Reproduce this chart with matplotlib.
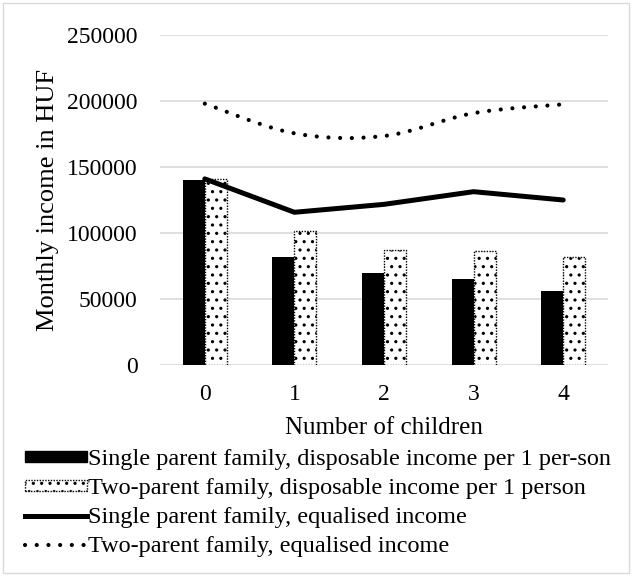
import numpy as np
import matplotlib
matplotlib.use("Agg")
import matplotlib.pyplot as plt
from matplotlib.patches import Rectangle
from matplotlib.lines import Line2D

plt.rcParams['font.family'] = ['Liberation Serif', 'DejaVu Serif']
plt.rcParams['hatch.linewidth'] = 1.1

categories = ['0', '1', '2', '3', '4']
single_disp = [140000, 81500, 70000, 65000, 55800]
two_disp = [141000, 101500, 87000, 86000, 81500]
single_eq = [141000, 115700, 121700, 131300, 125000]
two_eq = [198000, 175500, 173500, 190800, 197500]
yticks = [0, 50000, 100000, 150000, 200000, 250000]
labels = ['Single parent family, disposable income per 1 per-son',
          'Two-parent family, disposable income per 1 person',
          'Single parent family, equalised income',
          'Two-parent family, equalised income']

def smooth(xs, ys, n=40):
    # Catmull-Rom style smoothing (like Excel smoothed line)
    xs = np.asarray(xs, float); ys = np.asarray(ys, float)
    px = np.concatenate([[xs[0]], xs, [xs[-1]]])
    py = np.concatenate([[ys[0]], ys, [ys[-1]]])
    ox, oy = [], []
    for i in range(1, len(px) - 2):
        p0 = np.array([px[i-1], py[i-1]]); p1 = np.array([px[i], py[i]])
        p2 = np.array([px[i+1], py[i+1]]); p3 = np.array([px[i+2], py[i+2]])
        c1 = p1 + (p2 - p0) / 6.0
        c2 = p2 - (p3 - p1) / 6.0
        t = np.linspace(0, 1, n)[:, None]
        pts = (1-t)**3*p1 + 3*(1-t)**2*t*c1 + 3*(1-t)*t**2*c2 + t**3*p2
        ox.extend(pts[:, 0]); oy.extend(pts[:, 1])
    return np.array(ox), np.array(oy)

fig = plt.figure(figsize=(6.32, 5.76), dpi=100)
ax = fig.add_axes([160/632, 1-365/576, 448/632, 330/576])

x = np.arange(len(categories))
w = 0.245
ax.bar(x - w/2, single_disp, w, color='black', zorder=2)
ax.bar(x + w/2, two_disp, w, color='white', edgecolor='black', hatch='..',
       linestyle=(0, (1, 1)), linewidth=1.0, zorder=2)
ax.plot(x, single_eq, color='black', lw=3.6, solid_capstyle='round', zorder=3)
sx, sy = smooth(x, two_eq)
ax.plot(sx, sy, color='black', lw=3.0, linestyle=(0, (0.01, 2.8)),
        dash_capstyle='round', zorder=3)

ax.set_xlim(-0.5, 4.5)
ax.set_ylim(0, 250000)
ax.set_yticks(yticks)
ax.set_yticklabels([str(v) for v in yticks])
ax.set_xticks(x)
ax.set_xticklabels(categories)
ax.tick_params(axis='y', length=0, labelsize=17, pad=16)
ax.tick_params(axis='x', length=0, labelsize=17, pad=14)
ax.grid(axis='y', color='#d9d9d9', lw=1.2, zorder=0)
ax.set_axisbelow(True)
for s in ax.spines.values():
    s.set_visible(False)
ax.set_xlabel('Number of children', fontsize=18, labelpad=8)
ax.set_ylabel('Monthly income in HUF', fontsize=19, labelpad=6)

handles = [Rectangle((0, 0), 1, 1, color='black'),
           Rectangle((0, 0), 1, 1, facecolor='white', edgecolor='black', hatch='..',
                     linestyle=(0, (1, 1)), lw=1.0),
           Line2D([], [], color='black', lw=3.6),
           Line2D([], [], color='black', lw=3.0, linestyle=(0, (0.01, 2.8)), dash_capstyle='round')]
fig.legend(handles, labels, loc='upper left', bbox_to_anchor=(25/632, 1-449/576),
           frameon=False, fontsize=17.5, handlelength=2.55, handletextpad=0.05,
           handleheight=0.3, labelspacing=0.33, borderpad=0, borderaxespad=0)

fig.patches.append(Rectangle((3/632, 3/576), 626/632, 570/576, transform=fig.transFigure,
                             fill=False, edgecolor='#d9d9d9', lw=1))
fig.savefig('out.png', dpi=100)
